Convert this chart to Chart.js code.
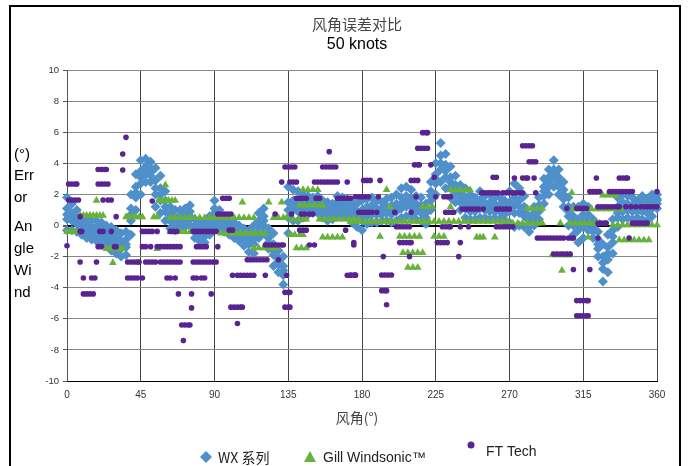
<!DOCTYPE html>
<html>
<head>
<meta charset="utf-8">
<script src="https://cdn.jsdelivr.net/npm/chart.js@4.4.1/dist/chart.umd.min.js"></script>
<style>
html,body{margin:0;padding:0;background:#fff;}
#wrap{width:688px;height:466px;position:relative;}
</style>
</head>
<body>
<div id="wrap"><canvas id="c"></canvas></div>
<script>
// ---- data ----
const chartTitle = '风角误差对比';
const chartSubtitle = '50 knots';
const xTitle = '风角(°)';
const yTitleLines = ['(°)', 'Err', 'or', 'An', 'gle', 'Wi', 'nd'];
const seriesNames = ['WX 系列', 'Gill Windsonic™', 'FT Tech'];

// WX series: band read at every 3 degrees (top, upper, middle, lower, bottom of the band)
const wxAngles = [0,3,6,9,12,15,18,21,24,27,30,33,36,39,42,45,48,51,54,57,60,63,66,69,72,75,78,81,84,87,90,93,96,99,102,105,108,111,114,117,120,123,126,129,132,135,138,141,144,147,150,153,156,159,162,165,168,171,174,177,180,183,186,189,192,195,198,201,204,207,210,213,216,219,222,225,228,231,234,237,240,243,246,249,252,255,258,261,264,267,270,273,276,279,282,285,288,291,294,297,300,303,306,309,312,315,318,321,324,327,330,333,336,339,342,345,348,351,354,357,360];
const wxTop = [1.8,1.4,1.0,0.5,0.4,0.3,0.3,0.2,0.0,-0.1,-0.3,-0.5,-0.4,2.0,3.3,4.2,4.3,4.1,3.7,3.2,2.2,1.2,1.0,1.0,1.1,1.3,0.4,0.3,0.2,0.6,1.6,1.0,0.4,0.3,0.2,0.0,-0.2,-0.3,0.0,0.8,1.1,-0.2,-0.5,-1.6,-2.0,2.5,2.3,2.2,2.0,1.9,1.8,1.9,1.6,1.5,1.4,1.9,1.8,1.7,1.5,1.4,1.6,1.7,1.8,1.6,1.5,1.7,1.8,2.0,2.4,2.5,2.3,1.9,1.8,1.4,2.8,4.0,5.3,4.6,3.8,3.2,2.6,2.4,2.0,1.8,2.2,1.9,2.0,1.8,1.8,1.6,2.2,2.7,2.4,1.9,0.6,1.2,1.8,3.0,3.6,4.2,3.6,2.8,1.8,1.2,1.2,1.4,1.2,0.4,-0.4,-1.2,-0.6,0.4,1.8,2.0,1.9,1.8,1.6,1.9,1.7,2.0,2.0];
const wxUpper = [1.1,0.8,0.5,0.1,0.0,-0.1,-0.1,-0.2,-0.4,-0.6,-0.8,-1.0,-0.9,1.1,2.5,3.5,3.8,3.7,2.9,2.4,1.6,0.7,0.6,0.6,0.7,0.9,0.0,-0.1,-0.2,0.2,1.1,0.6,0.1,0.0,-0.1,-0.3,-0.6,-0.8,-0.6,0.3,0.6,-0.6,-1.2,-2.1,-2.6,1.5,1.6,1.6,1.5,1.5,1.5,1.5,1.2,1.1,1.1,1.5,1.4,1.3,1.1,0.9,1.0,1.2,1.3,1.1,1.1,1.2,1.3,1.4,1.8,1.9,1.7,1.4,1.3,1.0,2.2,3.3,4.5,3.9,3.1,2.6,2.1,1.8,1.5,1.3,1.6,1.4,1.5,1.4,1.3,1.2,1.5,1.8,1.6,1.2,0.3,0.8,1.3,2.5,3.1,3.6,3.1,2.3,1.2,0.6,0.4,0.7,0.7,0.0,-0.9,-2.0,-1.4,-0.3,1.2,1.5,1.4,1.3,1.2,1.4,1.2,1.5,1.7];
const wxMid = [0.7,0.5,0.3,0.0,-0.2,-0.3,-0.4,-0.4,-0.6,-0.9,-1.0,-1.2,-1.2,0.7,2.1,3.1,3.5,3.4,2.4,2.0,1.2,0.5,0.4,0.4,0.5,0.6,-0.2,-0.4,-0.4,0.0,0.8,0.4,0.0,-0.2,-0.3,-0.5,-0.8,-1.0,-0.9,0.0,0.3,-0.8,-1.6,-2.3,-2.9,1.0,1.3,1.2,1.2,1.3,1.3,1.4,1.0,0.9,0.9,1.2,1.2,1.2,0.8,0.6,0.6,0.9,1.0,0.9,0.9,1.0,1.0,1.2,1.4,1.6,1.4,1.2,1.0,0.8,1.9,3.0,4.0,3.5,2.8,2.4,1.8,1.4,1.2,1.1,1.4,1.2,1.2,1.2,1.1,1.0,1.2,1.3,1.2,0.9,0.1,0.6,1.1,2.2,2.8,3.4,2.8,2.0,0.9,0.3,0.0,0.3,0.4,-0.2,-1.2,-2.4,-1.8,-0.7,0.8,1.2,1.2,1.1,1.0,1.2,1.0,1.3,1.6];
const wxLower = [0.4,0.3,0.1,-0.2,-0.4,-0.5,-0.6,-0.7,-0.9,-1.1,-1.3,-1.5,-1.4,0.3,1.8,2.7,3.3,3.2,2.0,1.6,0.9,0.3,0.1,0.2,0.3,0.4,-0.4,-0.6,-0.7,-0.2,0.5,0.2,-0.1,-0.3,-0.5,-0.7,-0.9,-1.2,-1.2,-0.3,0.0,-1.1,-1.9,-2.5,-3.2,0.5,1.0,0.9,1.0,1.1,1.1,1.2,0.9,0.7,0.7,1.0,1.1,1.0,0.6,0.4,0.3,0.6,0.7,0.7,0.7,0.8,0.7,0.9,1.1,1.2,1.2,0.9,0.8,0.5,1.6,2.7,3.6,3.1,2.5,2.1,1.5,1.1,0.9,0.9,1.1,1.0,0.9,0.9,0.9,0.7,0.9,0.8,0.8,0.6,-0.1,0.4,0.9,1.9,2.5,3.1,2.5,1.7,0.6,0.0,-0.3,-0.1,0.2,-0.4,-1.5,-2.8,-2.2,-1.1,0.5,0.9,1.0,0.9,0.9,0.9,0.8,1.1,1.4];
const wxBottom = [-0.3,-0.3,-0.4,-0.6,-0.8,-0.9,-1.0,-1.1,-1.3,-1.6,-1.8,-2.0,-1.9,-0.6,1.0,2.0,2.8,2.8,1.2,0.8,0.3,-0.2,-0.3,-0.2,-0.1,0.0,-0.8,-1.0,-1.1,-0.6,0.0,-0.2,-0.4,-0.6,-0.8,-1.0,-1.3,-1.7,-1.8,-0.8,-0.5,-1.5,-2.6,-3.0,-3.8,-0.5,0.3,0.3,0.5,0.7,0.8,0.8,0.5,0.3,0.4,0.6,0.7,0.6,0.2,-0.1,-0.3,0.1,0.2,0.2,0.3,0.3,0.2,0.3,0.5,0.6,0.6,0.4,0.3,0.1,1.0,2.0,2.8,2.4,1.8,1.5,1.0,0.5,0.4,0.4,0.5,0.5,0.4,0.5,0.4,0.3,0.2,-0.1,0.0,-0.1,-0.4,0.0,0.4,1.4,2.0,2.5,2.0,1.2,0.0,-0.6,-1.1,-0.8,-0.3,-0.8,-2.0,-3.6,-3.0,-1.8,-0.1,0.4,0.5,0.4,0.5,0.4,0.3,0.6,1.1];

// Gill Windsonic: [error value, angles where a triangle sits at that value]
const gillRuns = [
  [-0.4, [0,2,4,6]],
  [0.65, [8,10,12,14,16,18,20,22]],
  [1.6, [18]],
  [-1.5, [24,26,28,30,32,34,55]],
  [-2.4, [28]],
  [0.55, [36,38,40,42,44,46,53,55]],
  [2.6, [60]],
  [1.6, [56,58,60,62,64,66]],
  [0.5, [63,66,69,72,75,78,81,84,87,90,93,96,99,102,105,108,111,114,126,129,132,134]],
  [-0.4, [63,66,69,72,75]],
  [-0.5, [94,97,100,103,106,109,112,115,118,121]],
  [-1.45, [114,117,120,123,126,128,140,143,146]],
  [1.5, [107,123,131]],
  [-0.6, [136,139,142,144]],
  [0.4, [138,141,144,146,154,157,160,163,166,169,172,175,178]],
  [2.3, [144,147,150,153,195]],
  [1.3, [142,145,148,151,154,156]],
  [-0.75, [156,159,162,165,168,250,252,254,261,318]],
  [0.25, [173,176,179,182,185,188,191,194,197,200,203,206,209,212,215,218,221,224,227,230,233,236,239,242,245,248,251,254,257,260,263,266,269]],
  [1.2, [197,217,220,223,234]],
  [-0.7, [191,203,206,209,212,215,224,227,230]],
  [-1.75, [205,208,211,214,217]],
  [-2.7, [208,211,214]],
  [2.28, [234,237,240,243,246]],
  [0.15, [272,275,278,281,284,287,290,301,307,310,313,316,319,322,325]],
  [1.1, [281,284,287,290]],
  [-1.9, [296,299,302,305,307]],
  [-2.9, [302]],
  [1.06, [309,312,315,317,320,323,326,329,332,335,338]],
  [2.1, [308]],
  [1.95, [327,330,333,335]],
  [0.03, [333,336,339,342,345,348,351,354,357,360]],
  [-0.93, [337,340,343,346,349,352,355]]
];

// FT Tech: [error value, angles where a dot sits at that value]
const ftRuns = [
  [5.67, [36]],
  [4.6, [34]],
  [3.57, [34]],
  [3.6, [19,21,23,24]],
  [2.67, [1,3,5,6,19,21,23,25]],
  [1.64, [1,3,5,7,22,25,27]],
  [0.57, [8,30]],
  [1.57, [52]],
  [-1.3, [0]],
  [-0.38, [8,9,20,22,27,46,48,50,52,55,63,65,67,77,79,81,83,85,87,89,91]],
  [-1.36, [19,21,29,30,46,48,51,55,57,59,61,63,65,67,69,79,81,83,85,92]],
  [-2.35, [8,18,37,39,41,43,44,48,50,52,54,57,59,61,63,65,67,69,77,79,81,83,85,87,89,91]],
  [-3.38, [10,15,17,37,39,41,43,46,61,63,66,77,79,82,84]],
  [-4.4, [10,12,14,16,68,76,88]],
  [-5.3, [76]],
  [-6.4, [70,72,74,75]],
  [-7.4, [71]],
  [4.75, [160]],
  [3.76, [133,135,137,139,156,158,160,162,164]],
  [2.8, [131,136,138,140,151,153,155,157,159,161,163,165,171]],
  [1.75, [95,97,99,140,142,144,146,152,154,165,167,169,171,173]],
  [0.74, [92,94,96,98,100,127,137,143,145,148,150]],
  [-0.3, [99,101,142,144,146,170]],
  [-1.25, [121,123,125,127,129,131,132,148,151,175]],
  [-2.2, [110,112,114,116,118,120,122,129]],
  [-3.2, [101,104,106,108,110,112,114,121,134,171,173,176]],
  [-4.3, [133,135,136]],
  [-5.25, [100,102,104,106,107,133,135,136]],
  [-6.3, [104]],
  [5.97, [217,219,220]],
  [4.97, [214,216,218,220]],
  [3.9, [212,214,215,222]],
  [2.9, [181,183,185,191,210,212,214]],
  [3.1, [224,260,262]],
  [1.85, [176,178,180,182,184,190,213,225,230,232,234]],
  [2.1, [253,255,257,259,261,263,266,268,270,272,274,276,278,286]],
  [0.85, [178,180,182,184,186,189,200,210,231,233,235,236]],
  [1.06, [241,243,245,247,249,251,254,262,264,266,268,270]],
  [-0.08, [201,203,205,207,209,229,231,233,234,240,245,262,264,266,268,270,272]],
  [-1.1, [175,203,205,207,209,210,226,228,230,232,240]],
  [-2.0, [193,209,239]],
  [-3.18, [173,175,176,192,194,196,198]],
  [-4.19, [192,194,195]],
  [-5.1, [195]],
  [5.13, [278,280,282,284]],
  [4.1, [282,284,286]],
  [3.05, [273,278,280,281,285,323,337,339,341,342]],
  [2.18, [319,321,323,325,331,333,335,337,339,341,343,345,360]],
  [1.1, [305,311,313,315,317]],
  [1.2, [324,326,328,330,332,334,336,337,341,344,347,350,352,354,356,358,360]],
  [0.15, [324,326,328,329,345,347,349,351,353,354]],
  [-0.8, [287,289,291,293,295,297,299,301,303,306,308,309,324,343]],
  [-1.83, [297,299,301,303,305,307]],
  [-2.83, [309,319]],
  [-4.83, [311,313,315,317,318]],
  [-5.8, [311,313,315,317,318]]
];

const xTicks = [0,45,90,135,180,225,270,315,360];
const yTicks = [-10,-8,-6,-4,-2,0,2,4,6,8,10];

// ---- build datasets ----
const wxPoints = [];
[wxTop, wxUpper, wxMid, wxLower, wxBottom].forEach(row => {
  row.forEach((v, i) => wxPoints.push({x: wxAngles[i], y: v}));
});
function fromRuns(runs) {
  const pts = [];
  runs.forEach(([v, angs]) => angs.forEach(a => pts.push({x: a, y: v})));
  return pts;
}
const gillPoints = fromRuns(gillRuns);
const ftPoints = fromRuns(ftRuns);

const COL_WX = '#4f90cb';
const COL_GILL = '#67b23a';
const COL_FT = '#5a2392';
const FONT = '"Liberation Sans", Arial, "Noto Sans CJK SC", sans-serif';

const decor = {
  id: 'decor',
  afterDraw(chart) {
    const ctx = chart.ctx;
    ctx.save();
    // outer frame
    ctx.strokeStyle = '#000';
    ctx.lineWidth = 2;
    ctx.beginPath();
    ctx.moveTo(10, 470); ctx.lineTo(10, 6); ctx.lineTo(680, 6); ctx.lineTo(680, 470);
    ctx.stroke();
    ctx.textAlign = 'center';
    ctx.textBaseline = 'middle';
    ctx.fillStyle = '#444';
    ctx.font = '15px "Noto Sans CJK SC", ' + FONT;
    ctx.fillText(chartTitle, 357, 24);
    ctx.fillStyle = '#000';
    ctx.font = '16px ' + FONT;
    ctx.fillText(chartSubtitle, 357, 45);
    ctx.fillStyle = '#444';
    ctx.font = '14px "Noto Sans CJK SC", ' + FONT;
    ctx.fillText(xTitle, 357, 418);
    // y title (stacked lines)
    ctx.textAlign = 'left';
    ctx.fillStyle = '#000';
    ctx.font = '15px ' + FONT;
    const ys = [155, 176, 198, 227, 249, 271, 293];
    yTitleLines.forEach((t, i) => ctx.fillText(t, 14, ys[i]));
    // legend
    ctx.font = '14px "Noto Sans CJK SC", ' + FONT;
    ctx.fillStyle = COL_WX;
    ctx.beginPath();
    ctx.moveTo(206, 451); ctx.lineTo(212, 457); ctx.lineTo(206, 463); ctx.lineTo(200, 457); ctx.closePath();
    ctx.fill();
    ctx.fillStyle = '#222';
    ctx.fillText(seriesNames[0], 218, 458);
    ctx.fillStyle = COL_GILL;
    ctx.beginPath();
    ctx.moveTo(310, 451); ctx.lineTo(316, 462); ctx.lineTo(304, 462); ctx.closePath();
    ctx.fill();
    ctx.fillStyle = '#222';
    ctx.font = '14px ' + FONT;
    ctx.fillText(seriesNames[1], 323, 458);
    ctx.fillStyle = COL_FT;
    ctx.beginPath();
    ctx.arc(471, 445, 3.5, 0, Math.PI * 2);
    ctx.fill();
    ctx.fillStyle = '#222';
    ctx.fillText(seriesNames[2], 486, 452);
    ctx.restore();
  }
};

new Chart(document.getElementById('c'), {
  type: 'scatter',
  data: {
    datasets: [
      {label: seriesNames[0], data: wxPoints, order: 3, pointStyle: 'rectRot', pointRadius: 5,
       backgroundColor: COL_WX, borderColor: COL_WX, borderWidth: 0, clip: false},
      {label: seriesNames[1], data: gillPoints, order: 2, pointStyle: 'triangle', pointRadius: 4.5,
       backgroundColor: COL_GILL, borderColor: COL_GILL, borderWidth: 0, clip: false},
      {label: seriesNames[2], data: ftPoints, order: 1, pointStyle: 'circle', pointRadius: 2.8,
       backgroundColor: COL_FT, borderColor: COL_FT, borderWidth: 0, clip: false}
    ]
  },
  options: {
    responsive: true,
    maintainAspectRatio: false,
    animation: false,
    layout: {padding: {left: 0, top: 70, right: 31, bottom: 0}},
    plugins: {legend: {display: false}, title: {display: false}, tooltip: {enabled: false}},
    scales: {
      x: {
        type: 'linear', min: 0, max: 360,
        afterFit: s => { s.height = 85; },
        afterBuildTicks: s => { s.ticks = xTicks.map(v => ({value: v})); },
        ticks: {color: '#333', font: {size: 10, family: FONT}, padding: 8, maxRotation: 0},
        grid: {color: '#444', lineWidth: 1, drawTicks: false},
        border: {color: '#000', width: 1}
      },
      y: {
        min: -10, max: 10,
        afterFit: s => { s.width = 67; },
        afterBuildTicks: s => { s.ticks = yTicks.map(v => ({value: v})); },
        ticks: {color: '#333', font: {size: 9.5, family: FONT}, padding: 4},
        grid: {
          color: c => (c.tick && c.tick.value === 0) ? '#000' : '#888',
          lineWidth: c => (c.tick && c.tick.value === 0) ? 2 : 1,
          tickLength: 4, tickColor: '#555'
        },
        border: {color: '#555', width: 1}
      }
    }
  },
  plugins: [decor]
});
</script>
</body>
</html>
